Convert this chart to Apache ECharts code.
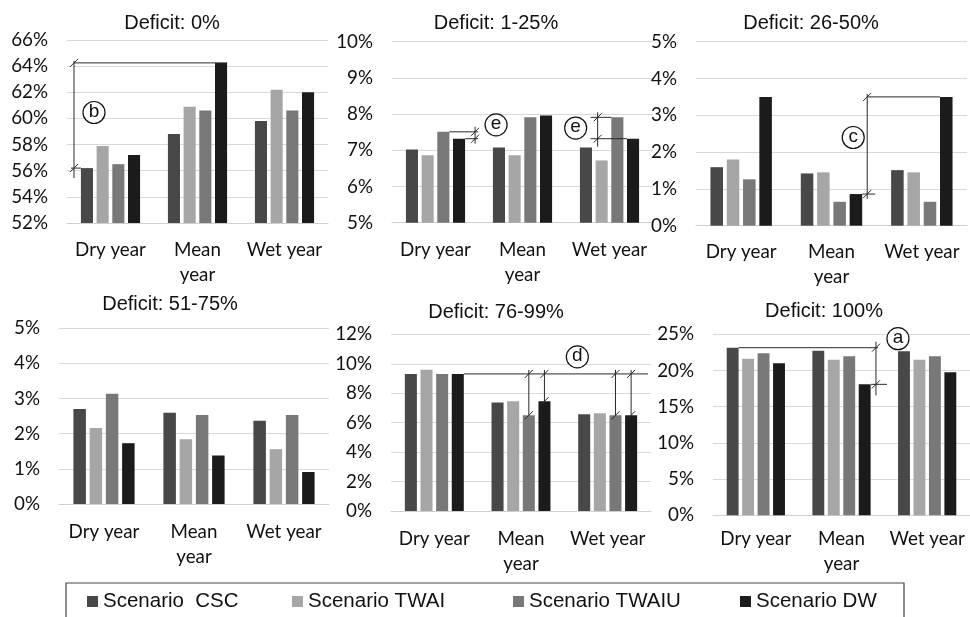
<!DOCTYPE html>
<html>
<head>
<meta charset="utf-8">
<script src="https://cdn.jsdelivr.net/npm/echarts@6/dist/echarts.min.js"></script>
<style>
  html, body { margin: 0; padding: 0; background: #ffffff; }
  #chart { width: 970px; height: 617px; }
</style>
</head>
<body>
<div id="chart"></div>
<script>
// Share of area per deficit class (%), one row per panel, one value per year type
const categories = ['Dry year', 'Mean\nyear', 'Wet year'];
const panelTitles = ['Deficit: 0%', 'Deficit: 1-25%', 'Deficit: 26-50%', 'Deficit: 51-75%', 'Deficit: 76-99%', 'Deficit: 100%'];
const scenarioNames = ['Scenario  CSC', 'Scenario TWAI', 'Scenario TWAIU', 'Scenario DW'];

const scenarioCSC   = [[56.2, 58.8, 59.8], [7.02, 7.08, 7.08], [1.59, 1.42, 1.51], [2.70, 2.60, 2.37], [9.31, 7.36, 6.57], [23.15, 22.73, 22.65]];
const scenarioTWAI  = [[57.9, 60.9, 62.2], [6.86, 6.86, 6.72], [1.80, 1.45, 1.45], [2.16, 1.84, 1.56], [9.60, 7.45, 6.64], [21.63, 21.49, 21.49]];
const scenarioTWAIU = [[56.5, 60.6, 60.6], [7.51, 7.91, 7.91], [1.26, 0.65, 0.65], [3.14, 2.53, 2.53], [9.31, 6.50, 6.50], [22.37, 21.96, 21.96]];
const scenarioDW    = [[57.2, 64.25, 62.0], [7.32, 7.96, 7.32], [3.50, 0.86, 3.50], [1.73, 1.38, 0.91], [9.31, 7.45, 6.50], [20.99, 18.09, 19.75]];

const yMin = [52, 5, 0, 0, 0, 0];
const yMax = [66, 10, 5, 5, 12, 25];
const yStep = [2, 1, 1, 1, 2, 5];

// Panel layout
const grids = [
  { left: 67,  top: 40,    width: 261, height: 183 },
  { left: 392, top: 41.7,  width: 261, height: 181 },
  { left: 696, top: 41.7,  width: 271, height: 184 },
  { left: 59,  top: 328.3, width: 270, height: 175.7 },
  { left: 391, top: 334.3, width: 260, height: 176.7 },
  { left: 713, top: 334.3, width: 260, height: 181 }
];
const titlePos = [[172, 25], [496, 25], [811, 25], [170, 306], [496, 314], [824, 313]];
const xLabelMargin = [14.5, 14.5, 13.5, 15, 15.5, 11];
const colors = ['#484848', '#a6a6a6', '#787878', '#1b1b1b'];
const scenarioData = [scenarioCSC, scenarioTWAI, scenarioTWAIU, scenarioDW];
const BAR_CAT_GAP = 0.32, BAR_GAP = 0.30;

const chart = echarts.init(document.getElementById('chart'), null, { renderer: 'canvas' });

const option = {
  animation: false,
  backgroundColor: '#ffffff',
  title: panelTitles.map((t, i) => ({
    text: t,
    left: titlePos[i][0],
    top: titlePos[i][1] - 12,
    textAlign: 'center',
    padding: 0,
    textStyle: { fontFamily: 'Liberation Sans', fontSize: 20, fontWeight: 'normal', color: '#111' }
  })),
  legend: scenarioNames.map((n, i) => ({
    data: [n],
    left: [87, 292, 513, 740][i],
    top: 591,
    padding: 0,
    icon: 'rect',
    itemWidth: 11,
    itemHeight: 11,
    selectedMode: false,
    textStyle: { fontFamily: 'Liberation Sans', fontSize: 20.5, color: '#111' }
  })),
  grid: grids.map(g => Object.assign({ containLabel: false }, g)),
  xAxis: grids.map((g, i) => ({
    type: 'category',
    gridIndex: i,
    data: categories,
    axisLine: { lineStyle: { color: '#cfcfcf', width: 1 } },
    axisTick: { show: false },
    axisLabel: { interval: 0, margin: xLabelMargin[i], fontFamily: 'Lato', fontSize: 18.8, lineHeight: 25, color: '#111' }
  })),
  yAxis: grids.map((g, i) => ({
    type: 'value',
    gridIndex: i,
    min: yMin[i],
    max: yMax[i],
    interval: yStep[i],
    axisLine: { show: false },
    axisTick: { show: false },
    splitLine: { lineStyle: { color: '#d9d9d9', width: 1 } },
    axisLabel: { formatter: '{value}%', margin: 19, fontFamily: 'Lato', fontSize: 18.8, color: '#111' }
  })),
  series: []
};

grids.forEach((g, gi) => {
  scenarioNames.forEach((name, si) => {
    option.series.push({
      type: 'bar',
      name: name,
      xAxisIndex: gi,
      yAxisIndex: gi,
      data: scenarioData[si][gi],
      barGap: (BAR_GAP * 100) + '%',
      barCategoryGap: (BAR_CAT_GAP * 100) + '%',
      itemStyle: { color: colors[si] },
      silent: true
    });
  });
});

chart.setOption(option);

// ---- Comparison brackets with circled letters ----
const val = (si, gi, ci) => scenarioData[si][gi][ci];
const toPx = (gi, ci, v) => chart.convertToPixel({ gridIndex: gi }, [ci, v]);
function barGeom(gi) {
  const band = grids[gi].width / categories.length;
  const groupW = band * (1 - BAR_CAT_GAP);
  const bw = groupW / (4 + 3 * BAR_GAP);
  return { bw: bw, step: bw * (1 + BAR_GAP) };
}
function barX(gi, ci, si) {
  const gm = barGeom(gi);
  return toPx(gi, ci, 0)[0] + (si - 1.5) * gm.step;
}
const barLeft = (gi, ci, si) => barX(gi, ci, si) - barGeom(gi).bw / 2;
const barRight = (gi, ci, si) => barX(gi, ci, si) + barGeom(gi).bw / 2;
const yOf = (gi, v) => toPx(gi, 0, v)[1];

const els = [];
const stroke = '#2a2a2a';
function line(x1, y1, x2, y2) {
  els.push({ type: 'line', silent: true, z: 50, shape: { x1: x1, y1: y1, x2: x2, y2: y2 }, style: { stroke: stroke, lineWidth: 1 } });
}
function tick(x, y) { line(x - 4, y + 4, x + 4, y - 4); }
function badge(x, y, letter) {
  els.push({ type: 'circle', silent: true, z: 51, shape: { cx: x, cy: y, r: 11 }, style: { fill: '#ffffff', stroke: '#111', lineWidth: 1.2 } });
  els.push({ type: 'text', silent: true, z: 52, x: x, y: y - 1, style: { text: letter, fill: '#111', font: '19px "Liberation Sans"', textAlign: 'center', textVerticalAlign: 'middle' } });
}

// b: deficit 0%, dry-year CSC vs mean-year DW
(function () {
  const gi = 0;
  const yTop = yOf(gi, val(3, gi, 1)), yBot = yOf(gi, val(0, gi, 0));
  const xv = grids[gi].left + 7;
  line(xv, yTop, barRight(gi, 1, 3), yTop);
  line(xv, yTop - 2, xv, yBot + 10);
  line(xv - 3, yBot, barLeft(gi, 0, 0), yBot);
  tick(xv, yTop); tick(xv, yBot);
  badge(xv + 20, (yTop + yBot) / 2 - 3, 'b');
})();

// e: deficit 1-25%, dry-year TWAIU vs DW
(function () {
  const gi = 1;
  const yA = yOf(gi, val(2, gi, 0)), yB = yOf(gi, val(3, gi, 0));
  const xv = barRight(gi, 0, 3) + 10;
  line(barRight(gi, 0, 2), yA, xv + 3, yA);
  line(barRight(gi, 0, 3), yB, xv + 3, yB);
  line(xv, yA - 5, xv, yB + 5);
  tick(xv, yA); tick(xv, yB);
  badge(xv + 21, yA - 7, 'e');
})();

// e: deficit 1-25%, wet-year TWAIU vs DW
(function () {
  const gi = 1;
  const yA = yOf(gi, val(2, gi, 2)), yB = yOf(gi, val(3, gi, 2));
  const xv = barX(gi, 2, 1) - 4;
  line(xv - 7, yA, barLeft(gi, 2, 2), yA);
  line(xv - 7, yB, barLeft(gi, 2, 3), yB);
  line(xv, yA - 5, xv, yB + 8);
  tick(xv, yA); tick(xv, yB);
  badge(xv - 22, (yA + yB) / 2, 'e');
})();

// c: deficit 26-50%, mean-year DW vs wet-year DW
(function () {
  const gi = 2;
  const yA = yOf(gi, val(3, gi, 2)), yB = yOf(gi, val(3, gi, 1));
  const xv = barRight(gi, 1, 3) + 5;
  line(xv, yA, barLeft(gi, 2, 3), yA);
  line(barRight(gi, 1, 3), yB, xv + 8, yB);
  line(xv, yA - 3, xv, yB + 5);
  tick(xv, yA); tick(xv, yB);
  badge(xv - 14, (yA + yB) / 2 - 8, 'c');
})();

// d: deficit 76-99%, dry-year level vs TWAIU / DW in mean and wet years
(function () {
  const gi = 4;
  const yTop = yOf(gi, val(3, gi, 0));
  line(barRight(gi, 0, 3), yTop, grids[gi].left + grids[gi].width - 3, yTop);
  [[1, 2], [1, 3], [2, 2], [2, 3]].forEach(([ci, si]) => {
    const x = barX(gi, ci, si);
    const y = yOf(gi, val(si, gi, ci));
    line(x, yTop - 4, x, y);
    tick(x, yTop); tick(x, y);
  });
  const cx = (toPx(gi, 1, 0)[0] + toPx(gi, 2, 0)[0]) / 2 + 13;
  badge(cx, yTop - 17, 'd');
})();

// a: deficit 100%, dry-year CSC vs mean-year DW
(function () {
  const gi = 5;
  const yA = yOf(gi, val(0, gi, 0)), yB = yOf(gi, val(3, gi, 1));
  const xv = barRight(gi, 1, 3) + 5;
  line(barRight(gi, 0, 0), yA, xv + 2, yA);
  line(xv, yA - 6, xv, yB + 11);
  line(barRight(gi, 1, 3), yB, xv + 11, yB);
  tick(xv, yA); tick(xv, yB);
  badge(xv + 22, yA - 9, 'a');
})();

// Legend frame
els.push({ type: 'rect', silent: true, z: 1, shape: { x: 66, y: 583, width: 838, height: 45 }, style: { fill: 'none', stroke: '#444', lineWidth: 1.2 } });

chart.setOption({ graphic: { elements: els } });
</script>
</body>
</html>
